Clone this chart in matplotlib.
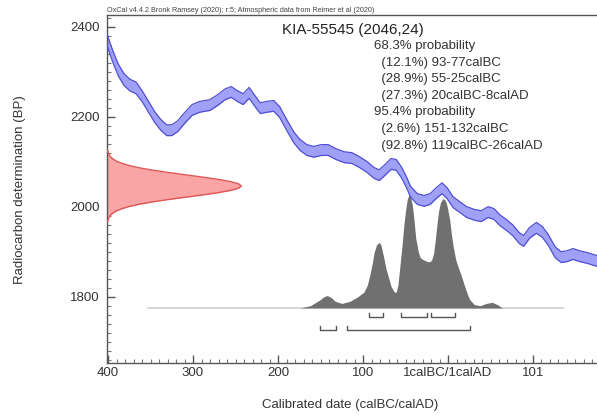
import matplotlib
matplotlib.use("Agg")
import matplotlib.pyplot as plt
import numpy as np

plt.rcParams['font.family'] = ['Liberation Sans', 'DejaVu Sans']

# ---------------- data (years: BC negative, AD positive) ----------------
curve_year = [-401, -395, -388, -381, -374, -367, -360, -353, -345, -338, -331, -325,
              -318, -309, -301, -292, -280, -271, -262, -255, -248, -241, -234, -228,
              -221, -213, -205, -198, -189, -181, -174, -166, -158, -149, -141, -132,
              -122, -113, -104, -95, -87, -81, -74, -67, -61, -55, -49, -44, -36, -28,
              -21, -14, -7, -1, 6, 14, 22, 31, 39, 47, 54, 61, 69, 76, 84, 89, 96,
              104, 111, 118, 126, 133, 140, 147, 155, 164, 176]
curve_bp = [2370, 2337, 2304, 2282, 2270, 2264, 2246, 2224, 2199, 2182, 2170, 2170,
            2179, 2199, 2215, 2222, 2226, 2237, 2250, 2255, 2246, 2239, 2253, 2237,
            2219, 2222, 2224, 2210, 2179, 2153, 2137, 2126, 2122, 2126, 2126, 2117,
            2110, 2108, 2099, 2088, 2075, 2070, 2082, 2095, 2093, 2077, 2055, 2033, 2017, 2013,
            2017, 2030, 2041, 2030, 2010, 1999, 1988, 1982, 1979, 1988, 1984, 1970, 1959, 1948,
            1930, 1924, 1942, 1953, 1944, 1926, 1899, 1888, 1890, 1895, 1890, 1886, 1879]
curve_err = [13] * 6 + [12] * (len(curve_bp) - 6)

c14_bp = list(range(1966, 2127, 5))
c14_dens = [0.004, 0.008, 0.014, 0.026, 0.044, 0.072, 0.114, 0.172, 0.249, 0.345, 0.458,
            0.581, 0.707, 0.823, 0.917, 0.979, 1.000, 0.979, 0.917, 0.823, 0.707, 0.581,
            0.458, 0.345, 0.249, 0.172, 0.114, 0.072, 0.044, 0.026, 0.014, 0.008, 0.004]

# calibrated posterior (grey), relative density
post_year = [-174, -162, -151, -146, -142, -137, -133, -125, -115, -106, -99, -95, -92,
             -89, -87, -84, -81, -79, -76, -73, -67, -63, -61, -59, -57, -54, -52, -50,
             -48, -46, -44, -42, -40, -38, -35, -33, -30, -27, -24, -21, -19, -17, -15,
             -13, -11, -9, -6, -3, -1, 2, 4, 6, 9, 12, 15, 18, 21, 24, 26, 31, 38, 45,
             52, 58, 64]
post_dens = [0.00, 0.02, 0.07, 0.10, 0.11, 0.09, 0.06, 0.04, 0.06, 0.10, 0.14, 0.20, 0.29,
             0.40, 0.49, 0.56, 0.58, 0.56, 0.46, 0.35, 0.19, 0.14, 0.14, 0.20, 0.34, 0.56, 0.73, 0.86,
             0.96, 1.00, 0.98, 0.91, 0.78, 0.62, 0.50, 0.45, 0.43, 0.42, 0.41, 0.41, 0.43, 0.48, 0.60,
             0.74, 0.86, 0.93, 0.97, 0.95, 0.90, 0.78, 0.65, 0.55, 0.43, 0.36, 0.30, 0.23, 0.16, 0.10,
             0.07, 0.03, 0.02, 0.04, 0.05, 0.03, 0.00]

range68 = [(-93, -77), (-55, -25), (-20, 8)]
range95 = [(-151, -132), (-119, 26)]

xtick_pos = [-400, -300, -200, -100, 0, 100]
xtick_lab = ['400', '300', '200', '100', '1calBC/1calAD', '101']
ytick_pos = [1800, 2000, 2200, 2400]

info_lines = ['68.3% probability', '  (12.1%) 93-77calBC', '  (28.9%) 55-25calBC',
              '  (27.3%) 20calBC-8calAD', '95.4% probability', '  (2.6%) 151-132calBC',
              '  (92.8%) 119calBC-26calAD']

# ---------------- figure ----------------
fig = plt.figure(figsize=(5.97, 4.15), dpi=100)
ax = fig.add_axes([107 / 597, 52 / 415, 1 - 107 / 597, (363 - 15) / 415])
XL = (-401.2, 175.3)
YL = (1652.7, 2426)
ax.set_xlim(*XL)
ax.set_ylim(*YL)

txtc = '#333333'
axc = '#555555'

# calibration curve band
cy = np.array(curve_year)
cb = np.array(curve_bp)
ce = np.array(curve_err)
ax.fill_between(cy, cb - ce, cb + ce, color='#a0a0f6', lw=0, zorder=2)
ax.plot(cy, cb + ce, color='#4f4fd4', lw=0.9, zorder=3)
ax.plot(cy, cb - ce, color='#4f4fd4', lw=0.9, zorder=3)

# radiocarbon measurement (red)
amp = 158
rx = XL[0] + amp * np.array(c14_dens)
ax.fill_betweenx(c14_bp, XL[0], rx, color='#f9a5a5', lw=0, zorder=2)
ax.plot(rx, c14_bp, color='#e05555', lw=1.0, zorder=3)

# posterior (grey)
base = 1775
hscale = 251
ax.plot([-353, 135], [base, base], color='#d0d0d0', lw=1.2, zorder=1)
ax.fill_between(post_year, base, base + hscale * np.array(post_dens), color='#707070', lw=0, zorder=2)

# range brackets
def bracket(a, b, y):
    ax.plot([a, a, b, b], [y + 9, y, y, y + 9], color='#555555', lw=1.0, zorder=3)

for a, b in range68:
    bracket(a, b, 1755)
for a, b in range95:
    bracket(a, b, 1726)

# axes styling
ax.spines['right'].set_visible(False)
for s in ['left', 'bottom', 'top']:
    ax.spines[s].set_color(axc)
    ax.spines[s].set_linewidth(1.0)

ax.set_xticks(xtick_pos)
ax.set_xticklabels(xtick_lab)
ax.set_xticks(np.arange(-400, 176, 10), minor=True)
ax.set_yticks(ytick_pos)
ax.set_yticks(np.arange(1660, 2426, 20), minor=True)
ax.tick_params(which='major', direction='in', length=6, width=1.0, color=axc,
               labelsize=9.5, labelcolor=txtc, pad=3)
ax.tick_params(which='minor', direction='in', length=2.8, width=0.8, color='#777777')
ax.tick_params(axis='y', which='major', pad=5)

fig.text(20 / 597, 1 - 190 / 415, 'Radiocarbon determination (BP)', rotation=90,
         ha='center', va='center', fontsize=9.5, color=txtc)
fig.text(350 / 597, 1 - 405 / 415, 'Calibrated date (calBC/calAD)',
         ha='center', va='center', fontsize=9.5, color=txtc)

fig.text(107 / 597, 1 - 11 / 415,
         'OxCal v4.4.2 Bronk Ramsey (2020); r:5; Atmospheric data from Reimer et al (2020)',
         ha='left', va='center', fontsize=5.2, color='#444444')
fig.text(282 / 597, 1 - 30 / 415, 'KIA-55545 (2046,24)', ha='left', va='center',
         fontsize=11, color='#222222')
for i, line in enumerate(info_lines):
    fig.text(374 / 597, 1 - (46 + 16.6 * i) / 415, line, ha='left', va='center',
             fontsize=9.5, color=txtc)

fig.savefig('out.png', dpi=100)
